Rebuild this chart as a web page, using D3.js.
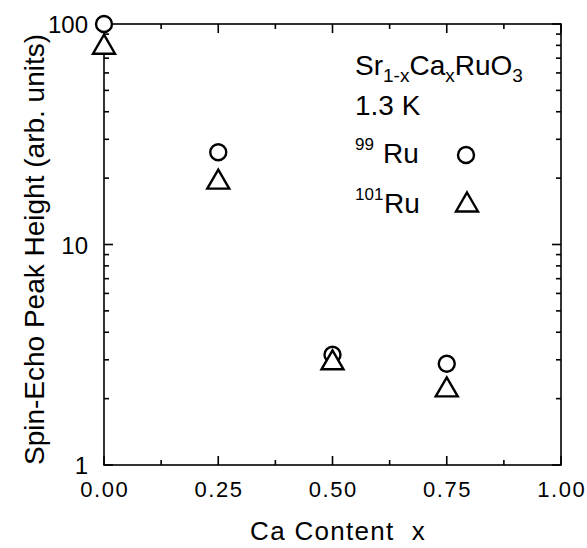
<!DOCTYPE html>
<html><head><meta charset="utf-8">
<script src="https://cdn.jsdelivr.net/npm/d3@7"></script>
<style>body{margin:0;background:#fff}svg{display:block}text{font-family:"Liberation Sans",Arial,sans-serif;fill:#000}</style>
</head><body><svg id="c" width="587" height="548"></svg>
<script>
const caContent = [0.00, 0.25, 0.50, 0.75];
const ru99 = [100, 26.2, 3.16, 2.88];
const ru101 = [81, 19.8, 3.0, 2.26];
const xTicks = [0, 0.25, 0.5, 0.75, 1.0];
const xTickLabels = ["0.00", "0.25", "0.50", "0.75", "1.00"];
const yTicks = [1, 10, 100];
const yTickLabels = ["1", "10", "100"];

const svg = d3.select("#c");
const L = 104, R = 561, T = 24, B = 465;
const x = d3.scaleLinear().domain([0, 1]).range([L, R]);
const y = d3.scaleLog().domain([1, 100]).range([B, T]);

const g = svg.append("g");
const minorX = d3.range(0, 1.0001, 0.125).filter(v => Math.abs((v / 0.25) - Math.round(v / 0.25)) > 1e-6);
const minorY = [];
[1, 10].forEach(d => { for (let k = 2; k <= 9; k++) minorY.push(d * k); });

const ax = g.append("g").attr("stroke", "#000").attr("stroke-width", 1.6);
ax.append("rect").attr("x", L).attr("y", T).attr("width", R - L).attr("height", B - T).attr("fill", "none");
xTicks.forEach(v => {
  ax.append("line").attr("x1", x(v)).attr("x2", x(v)).attr("y1", B).attr("y2", B - 9);
  ax.append("line").attr("x1", x(v)).attr("x2", x(v)).attr("y1", T).attr("y2", T + 9);
});
minorX.forEach(v => {
  ax.append("line").attr("x1", x(v)).attr("x2", x(v)).attr("y1", B).attr("y2", B - 5);
  ax.append("line").attr("x1", x(v)).attr("x2", x(v)).attr("y1", T).attr("y2", T + 5);
});
yTicks.forEach(v => {
  ax.append("line").attr("x1", L).attr("x2", L + 9).attr("y1", y(v)).attr("y2", y(v));
  ax.append("line").attr("x1", R).attr("x2", R - 9).attr("y1", y(v)).attr("y2", y(v));
});
minorY.forEach(v => {
  ax.append("line").attr("x1", L).attr("x2", L + 5).attr("y1", y(v)).attr("y2", y(v));
  ax.append("line").attr("x1", R).attr("x2", R - 5).attr("y1", y(v)).attr("y2", y(v));
});

// tick labels
xTicks.forEach((v, i) => {
  g.append("text").attr("x", x(v) + 0.75).attr("y", B + 32).attr("text-anchor", "middle")
    .attr("font-size", 22).style("letter-spacing", "1.5px").text(xTickLabels[i]);
});
yTicks.forEach((v, i) => {
  g.append("text").attr("x", 88).attr("y", y(v) + 9).attr("text-anchor", "end")
    .attr("font-size", 24).text(yTickLabels[i]);
});

// axis titles
g.append("text").attr("x", 338).attr("y", 540).attr("text-anchor", "middle")
  .attr("font-size", 26).style("white-space", "pre").style("letter-spacing", "1.3px").text("Ca Content  x");
g.append("text").attr("transform", `translate(44,${(T + B) / 2 + 5}) rotate(-90)`).attr("text-anchor", "middle")
  .attr("font-size", 28).text("Spin-Echo Peak Height (arb. units)");

// markers
const triPath = "M0,-9.5L11,9.5L-11,9.5Z";
const mk = g.append("g").attr("stroke", "#000").attr("stroke-width", 2.4).attr("fill", "#fff");
mk.selectAll("circle").data(caContent).join("circle")
  .attr("cx", d => x(d)).attr("cy", (d, i) => y(ru99[i])).attr("r", 8);
mk.selectAll("path").data(caContent).join("path")
  .attr("d", triPath).attr("transform", (d, i) => `translate(${x(d)},${y(ru101[i])})`);

// legend
const lg = g.append("g");
const t1 = lg.append("text").attr("x", 355).attr("y", 75).attr("font-size", 28);
t1.append("tspan").text("Sr");
t1.append("tspan").attr("font-size", 19).attr("dy", 7).text("1-x");
t1.append("tspan").attr("dy", -7).text("Ca");
t1.append("tspan").attr("font-size", 19).attr("dy", 7).text("x");
t1.append("tspan").attr("dy", -7).text("RuO");
t1.append("tspan").attr("font-size", 19).attr("dy", 7).text("3");
lg.append("text").attr("x", 355).attr("y", 115).attr("font-size", 28).text("1.3 K");
const t3 = lg.append("text").attr("x", 355).attr("y", 163).attr("font-size", 28);
t3.append("tspan").attr("font-size", 17).attr("dy", -13).text("99");
t3.append("tspan").attr("x", 383).attr("dy", 13).text("Ru");
const t4 = lg.append("text").attr("x", 355).attr("y", 213).attr("font-size", 28);
t4.append("tspan").attr("font-size", 17).attr("dy", -13).text("101");
t4.append("tspan").attr("x", 384).attr("dy", 13).text("Ru");
lg.append("circle").attr("cx", 466).attr("cy", 155).attr("r", 8).attr("fill", "#fff").attr("stroke", "#000").attr("stroke-width", 2.4);
lg.append("path").attr("d", triPath).attr("transform", "translate(467,202)").attr("fill", "#fff").attr("stroke", "#000").attr("stroke-width", 2.4);
</script></body></html>
